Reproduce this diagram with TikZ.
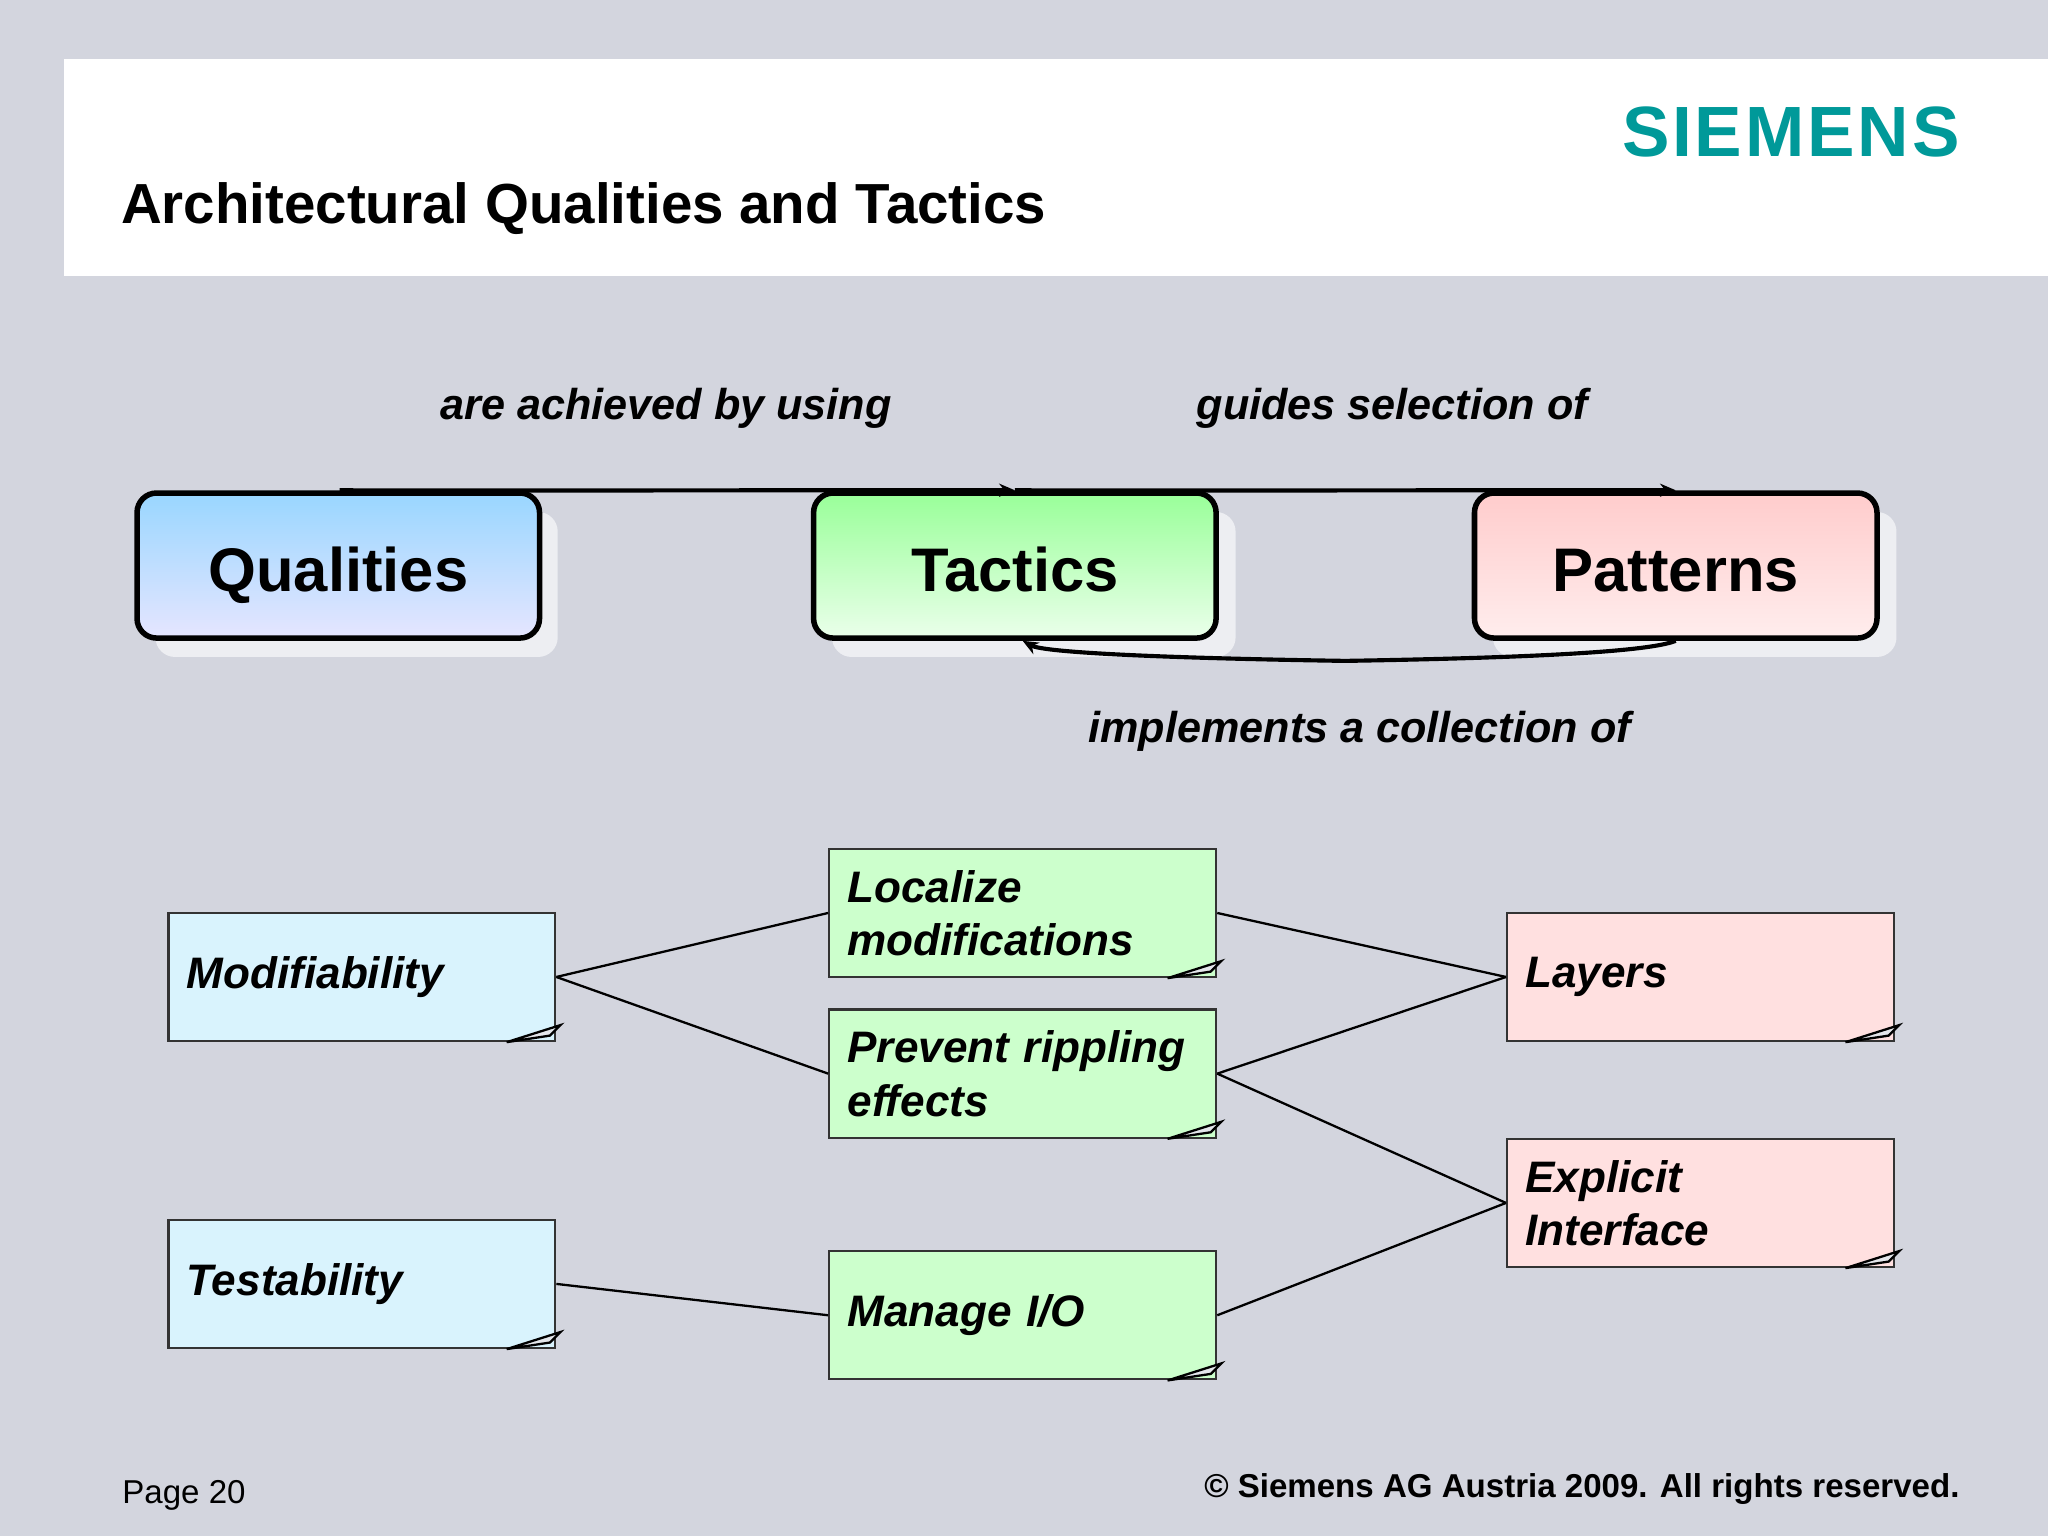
\documentclass[tikz,border=0pt]{standalone}
\usepackage{fontspec}
\setmainfont{Liberation Sans}
\usetikzlibrary{arrows.meta}
\definecolor{bg}{HTML}{D3D5DE}
\definecolor{sie}{HTML}{009999}
\tikzset{
 top/.style={draw=black,line width=1.2pt,rounded corners=0.15cm,minimum width=3.08cm,minimum height=1.11cm,text height=0.44cm,text depth=0.04cm,font=\bfseries\fontsize{13.4}{15}\selectfont},
 shad/.style={fill=white!60!bg,rounded corners=0.15cm},
 note/.style={draw=black!80,line width=0.5pt,minimum width=2.96cm,minimum height=0.98cm,inner sep=0pt,text width=2.68cm,align=left,font=\bfseries\itshape\fontsize{9.6}{11.6}\selectfont},
 lbl/.style={font=\bfseries\itshape\fontsize{9.4}{11}\selectfont},
 con/.style={line width=0.5pt},
 arr/.style={line width=0.9pt,-{Stealth[length=0.12cm,width=0.1cm]}}
}
\newcommand{\fold}[1]{\fill[bg!60!white] ([xshift=-0.38cm]#1.south east) -- ([xshift=0.03cm,yshift=0.13cm]#1.south east) -- ([xshift=-0.05cm,yshift=0.05cm]#1.south east) -- cycle;
\draw[line width=0.5pt] ([xshift=-0.38cm]#1.south east) -- ([xshift=0.03cm,yshift=0.13cm]#1.south east) -- ([xshift=-0.05cm,yshift=0.05cm]#1.south east) -- cycle;}
\begin{document}
\begin{tikzpicture}[x=0.01cm,y=-0.01cm]
\fill[bg] (0,0) rectangle (1568,1176);
\useasboundingbox (0,0) rectangle (1568,1176);
\fill[white] (49,45) rectangle (1568,211);
\node[anchor=west,inner sep=0pt,font=\bfseries\fontsize{12.3}{14}\selectfont] (title) at (92,160) {Architectural Qualities and Tactics};
\node[anchor=east,inner sep=0pt,text=sie,font=\bfseries\fontsize{15.5}{18}\selectfont] (logo) at (1501,101) {\addfontfeatures{LetterSpace=4}SIEMENS};
% shadows
\fill[shad] (119,392) rectangle (427,503);
\fill[shad] (637,392) rectangle (946,503);
\fill[shad] (1143,392) rectangle (1452,503);
\node[top,top color=blue!40!cyan!40!white,bottom color=blue!10!white] (q) at (259,433) {Qualities};
\node[top,top color=green!40!white,bottom color=green!8!white] (t) at (777,433) {Tactics};
\node[top,top color=red!20!white,bottom color=red!7!white] (p) at (1283,433) {Patterns};
\draw[arr] ([xshift=0.01cm]q.north) .. controls (400,376) and (650,375) .. (t.north);
\draw[arr] (t.north) .. controls (950,376) and (1150,375) .. (p.north);
\draw[arr] (p.south) .. controls (1260,500) and (1150,504) .. (1030,506) .. controls (900,504) and (800,500) .. ([xshift=0.06cm]t.south);
\node[lbl] (l1) at (510,313) {are achieved by using};
\node[lbl] (l2) at (1066,313) {guides selection of};
\node[lbl] (l3) at (1041,560) {implements a collection of};
% notes
\node[note,fill=cyan!15!white] (mod) at (277,748) {Modifiability};
\node[note,fill=cyan!15!white] (tes) at (277,983) {Testability};
\node[note,fill=green!20!white] (loc) at (783,699) {Localize\\modifications};
\node[note,fill=green!20!white] (pre) at (783,822) {Prevent rippling\\effects};
\node[note,fill=green!20!white] (man) at (783,1007) {Manage I/O};
\node[note,fill=red!12!white] (lay) at (1302,748) {Layers};
\node[note,fill=red!12!white] (exp) at (1302,921) {Explicit\\Interface};
\foreach \n in {mod,tes,loc,pre,man,lay,exp}{\fold{\n}}
\draw[con] (mod.east) -- (loc.west);
\draw[con] (mod.east) -- (pre.west);
\draw[con] (loc.east) -- (lay.west);
\draw[con] (pre.east) -- (lay.west);
\draw[con] (pre.east) -- (exp.west);
\draw[con] (tes.east) -- (man.west);
\draw[con] (man.east) -- (exp.west);
\node[anchor=west,inner sep=0pt,font=\fontsize{7.2}{9}\selectfont] (pg) at (93,1145) {Page 20};
\node[anchor=east,inner sep=0pt,font=\bfseries\fontsize{7.2}{9}\selectfont] (cr) at (1501,1140) {© Siemens AG Austria 2009. All rights reserved.};
\end{tikzpicture}
\end{document}
